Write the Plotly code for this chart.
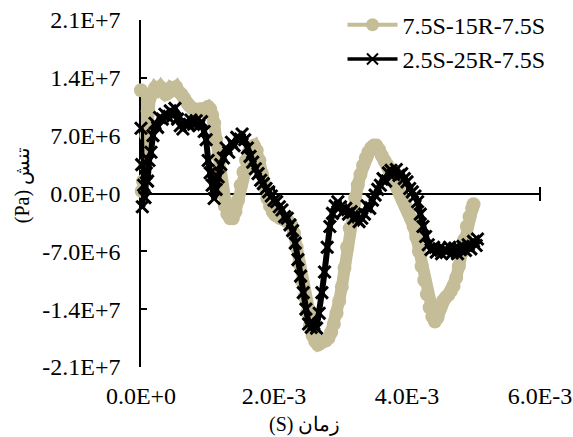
import numpy as np
import plotly.graph_objects as go

# ---- data (time in ms, stress in units of 1e6 Pa) ----
series1_name = "7.5S-15R-7.5S"
series1_t_ms = [0.00, 0.01, 0.03, 0.06, 0.08, 0.10, 0.13, 0.17, 0.21, 0.25, 0.29, 0.33, 0.37, 0.41, 0.45,
                0.49, 0.53, 0.57, 0.61, 0.65, 0.69, 0.73, 0.77, 0.81, 0.85, 0.89, 0.93, 0.97, 1.01, 1.04,
                1.07, 1.10, 1.13, 1.16, 1.19, 1.22, 1.26, 1.30, 1.34, 1.38, 1.42, 1.46, 1.50, 1.54, 1.58,
                1.62, 1.66, 1.70, 1.74, 1.78, 1.82, 1.86, 1.90, 1.94, 1.98, 2.02, 2.06, 2.10, 2.14, 2.18,
                2.22, 2.26, 2.30, 2.34, 2.38, 2.42, 2.46, 2.50, 2.54, 2.58, 2.62, 2.66, 2.70, 2.74, 2.78,
                2.82, 2.86, 2.90, 2.94, 2.98, 3.02, 3.06, 3.10, 3.14, 3.18, 3.22, 3.26, 3.30, 3.34, 3.38,
                3.42, 3.46, 3.50, 3.54, 3.58, 3.62, 3.66, 3.70, 3.74, 3.78, 3.82, 3.86, 3.90, 3.94, 3.98,
                4.02, 4.06, 4.10, 4.14, 4.18, 4.22, 4.26, 4.30, 4.34, 4.38, 4.42, 4.46, 4.50, 4.54, 4.58,
                4.62, 4.66, 4.70, 4.74, 4.78, 4.82, 4.86, 4.90, 4.94, 4.98, 5.00]
series1_val_e6 = [12.5, 0.3, 1.5, 3.5, 7.0, 10.0, 11.5, 12.2, 12.8, 12.5, 12.9, 12.4, 12.0, 12.2, 12.8,
                  12.6, 12.9, 12.3, 12.0, 11.5, 11.0, 10.6, 10.3, 10.2, 10.0, 10.2, 10.0, 10.3, 10.5, 10.2,
                  9.5, 8.5, 6.5, 4.5, 2.0, 0.0, -1.5, -2.5, -3.0, -3.0, -2.2, -0.8, 1.0, 2.6, 4.0,
                  5.0, 5.6, 5.8, 5.2, 4.0, 2.4, 0.8, -0.6, -1.5, -2.2, -2.6, -2.8, -3.0, -3.1, -3.3,
                  -3.4, -3.8, -4.8, -6.5, -8.5, -10.6, -12.5, -14.4, -16.0, -17.2, -17.9, -18.3, -18.1, -17.9, -17.8,
                  -17.5, -16.8, -15.8, -14.5, -13.0, -11.3, -9.0, -6.5, -4.2, -2.3, -0.5, 1.0, 2.3, 3.4, 4.3,
                  5.0, 5.5, 5.8, 5.8, 5.3, 4.6, 4.0, 3.5, 3.0, 2.4, 1.6, 0.8, 0.0, -0.8, -1.5,
                  -2.2, -3.0, -4.0, -5.3, -7.0, -8.8, -10.5, -12.2, -13.8, -14.9, -15.5, -15.0, -13.8, -13.0, -12.6,
                  -12.3, -11.8, -11.2, -10.2, -8.8, -7.2, -5.6, -4.0, -2.8, -1.8, -1.3]

series2_name = "2.5S-25R-7.5S"
series2_t_ms = [0.00, 0.01, 0.02, 0.04, 0.06, 0.08, 0.10, 0.12, 0.15, 0.18, 0.21, 0.25, 0.28, 0.32, 0.36,
                0.40, 0.44, 0.48, 0.51, 0.55, 0.59, 0.63, 0.67, 0.71, 0.75, 0.79, 0.83, 0.87, 0.91, 0.95,
                0.98, 1.01, 1.04, 1.07, 1.10, 1.13, 1.16, 1.20, 1.24, 1.28, 1.32, 1.36, 1.40, 1.44, 1.48,
                1.52, 1.56, 1.60, 1.64, 1.68, 1.72, 1.76, 1.80, 1.84, 1.88, 1.92, 1.96, 2.00, 2.04, 2.08,
                2.12, 2.16, 2.20, 2.24, 2.28, 2.32, 2.36, 2.40, 2.44, 2.48, 2.52, 2.56, 2.60, 2.64, 2.68,
                2.72, 2.76, 2.80, 2.84, 2.88, 2.92, 2.96, 3.00, 3.04, 3.08, 3.12, 3.16, 3.20, 3.24, 3.28,
                3.32, 3.36, 3.40, 3.44, 3.48, 3.52, 3.56, 3.60, 3.64, 3.68, 3.72, 3.76, 3.80, 3.84, 3.88,
                3.92, 3.96, 4.00, 4.04, 4.08, 4.12, 4.16, 4.20, 4.24, 4.28, 4.32, 4.36, 4.40, 4.44, 4.48,
                4.52, 4.56, 4.60, 4.64, 4.68, 4.72, 4.76, 4.80, 4.84, 4.88, 4.92, 4.96, 5.00, 5.04, 5.06]
series2_val_e6 = [7.9, 3.5, -1.6, 1.0, -0.5, 2.5, 1.5, 4.0, 5.0, 7.0, 8.5, 8.0, 9.2, 9.0, 9.6,
                  9.3, 10.0, 9.4, 10.3, 9.0, 8.2, 7.8, 8.6, 8.3, 8.9, 8.4, 8.8, 8.2, 8.7, 7.5,
                  6.5, 4.0, 2.5, 1.0, -0.6, 0.5, 2.0, 3.5, 4.3, 5.5, 5.0, 6.2, 5.8, 6.8, 6.5,
                  7.2, 6.5, 5.5, 4.5, 3.8, 3.0, 2.4, 1.6, 1.2, 0.6, 0.2, -0.3, -0.8, -1.0, -1.6,
                  -2.0, -2.8, -3.0, -3.8, -4.5, -6.0, -8.0, -10.0, -12.0, -14.0, -15.8, -16.2, -15.8, -16.3, -14.5,
                  -12.0, -9.5, -6.5, -4.0, -2.4, -1.5, -1.0, -1.6, -2.2, -1.8, -2.5, -2.2, -3.0, -2.6, -3.4,
                  -3.0, -2.5, -1.5, -1.8, -0.8, -0.2, 0.5, 1.0, 1.8, 1.5, 2.5, 2.8, 2.3, 2.9, 2.2,
                  2.4, 1.8, 1.4, 0.6, 0.2, -0.3, -1.0, -2.5, -4.0, -5.2, -6.2, -6.8, -6.5, -7.1, -6.7,
                  -7.3, -6.8, -7.0, -6.5, -7.2, -6.6, -7.3, -6.8, -6.4, -6.9, -6.2, -6.7, -5.8, -6.3, -5.5]

x_tickvals = [0.0, 0.002, 0.004, 0.006]
x_ticktext = ["0.0E+0", "2.0E-3", "4.0E-3", "6.0E-3"]
y_tickvals = [-2.1e7, -1.4e7, -7.0e6, 0.0, 7.0e6, 1.4e7, 2.1e7]
y_ticktext = ["-2.1E+7", "-1.4E+7", "-7.0E+6", "0.0E+0", "7.0E+6", "1.4E+7", "2.1E+7"]
x_title = "(S) زمان"
y_title = "(Pa) تنش"

t1 = np.array(series1_t_ms) * 1e-3
v1 = np.array(series1_val_e6) * 1e6
t2 = np.array(series2_t_ms) * 1e-3
v2 = np.array(series2_val_e6) * 1e6

BEIGE = "#C4BD97"
FONT = "Liberation Serif, Times New Roman, serif"

fig = go.Figure()
# data traces (thick, dense look)
fig.add_trace(go.Scatter(x=t1, y=v1, mode="lines+markers", showlegend=False, cliponaxis=False,
                         line=dict(color=BEIGE, width=12),
                         marker=dict(symbol="circle", size=14, color=BEIGE)))
fig.add_trace(go.Scatter(x=t2, y=v2, mode="lines+markers", showlegend=False, cliponaxis=False,
                         line=dict(color="black", width=6),
                         marker=dict(symbol="x-thin", size=12, line=dict(color="black", width=3))))
# legend entries
fig.add_trace(go.Scatter(x=[None], y=[None], mode="lines+markers", name=series1_name,
                         line=dict(color=BEIGE, width=4), marker=dict(symbol="circle", size=13, color=BEIGE)))
fig.add_trace(go.Scatter(x=[None], y=[None], mode="lines+markers", name=series2_name,
                         line=dict(color="black", width=3.5),
                         marker=dict(symbol="x-thin", size=11, line=dict(color="black", width=2))))
# helper traces for zero-crossing axes
fig.add_trace(go.Scatter(x=[None], y=[None], xaxis="x2", showlegend=False, hoverinfo="skip"))
fig.add_trace(go.Scatter(x=[None], y=[None], xaxis="x3", showlegend=False, hoverinfo="skip"))

common_x = dict(range=[0, 0.006], tickvals=x_tickvals, showgrid=False, zeroline=False)
fig.update_layout(
    width=573, height=437,
    margin=dict(l=141, r=33, t=20, b=70, autoexpand=False),
    paper_bgcolor="white", plot_bgcolor="white",
    font=dict(family=FONT, size=24, color="black"),
    xaxis=dict(**common_x, ticktext=x_ticktext, showline=False, ticks="",
               ticklabelstandoff=12, tickfont=dict(size=24), automargin=False),
    xaxis2=dict(**common_x, overlaying="x", anchor="free", position=0.5, side="bottom",
                showline=True, linecolor="black", linewidth=1.5, ticks="outside", ticklen=7,
                tickwidth=1.5, tickcolor="black", showticklabels=False, layer="below traces"),
    xaxis3=dict(**common_x, overlaying="x", anchor="free", position=0.5, side="top",
                showline=False, ticks="outside", ticklen=7,
                tickwidth=1.5, tickcolor="black", showticklabels=False, layer="below traces"),
    yaxis=dict(range=[-2.1e7, 2.1e7], tickvals=y_tickvals, ticktext=y_ticktext,
               showline=True, linecolor="black", linewidth=1.5, ticks="inside", ticklen=6,
               tickwidth=1.5, tickcolor="black", showgrid=False, zeroline=False, automargin=False,
               ticklabelstandoff=14, layer="below traces", tickfont=dict(size=24)),
    legend=dict(x=0.505, y=1.05, xanchor="left", yanchor="top", bgcolor="rgba(0,0,0,0)",
                font=dict(size=24), tracegroupgap=0, itemwidth=50),
    annotations=[
        dict(text=x_title, xref="paper", yref="paper", x=0.41, y=-0.167, showarrow=False,
             xanchor="center", yanchor="middle", font=dict(size=20)),
        dict(text=y_title, xref="paper", yref="paper", x=-0.298, y=0.524, showarrow=False,
             textangle=-90, xanchor="center", yanchor="middle", font=dict(size=20)),
    ],
)

fig.write_html("out.html")
